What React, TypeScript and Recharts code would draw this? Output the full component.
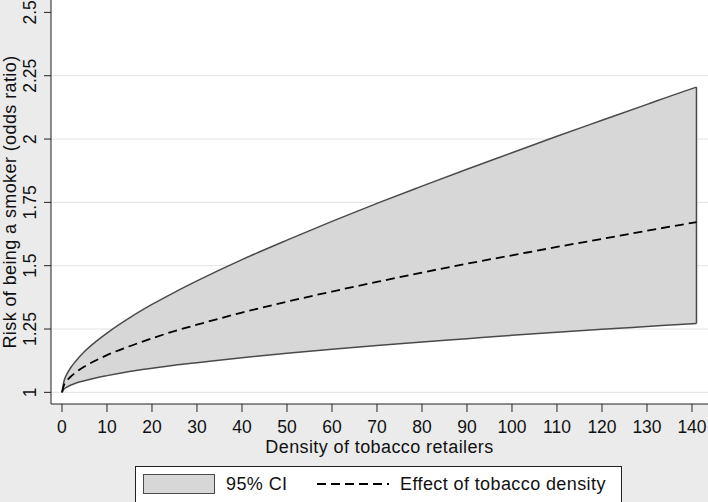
import React from 'react';
import {
  ComposedChart,
  Area,
  Line,
  XAxis,
  YAxis,
  CartesianGrid,
  ReferenceLine,
} from 'recharts';

// density of tobacco retailers (x) and odds ratios
const densityX = [0, 0.5, 1, 2, 3, 5, 7.5, 10, 15, 20, 25, 30, 40, 50, 60, 70, 80, 90, 100, 110, 120, 130, 140, 141];
const effectOR = [1, 1.031, 1.044, 1.063, 1.078, 1.102, 1.126, 1.147, 1.182, 1.213, 1.242, 1.267, 1.315, 1.358, 1.398, 1.436, 1.473, 1.508, 1.541, 1.574, 1.606, 1.638, 1.669, 1.672];
const upperCI = [1, 1.048, 1.069, 1.099, 1.122, 1.161, 1.2, 1.234, 1.294, 1.347, 1.395, 1.44, 1.524, 1.601, 1.675, 1.746, 1.814, 1.881, 1.946, 2.011, 2.074, 2.137, 2.199, 2.205];
const lowerCI = [1, 1.014, 1.02, 1.029, 1.036, 1.046, 1.057, 1.066, 1.082, 1.095, 1.107, 1.117, 1.137, 1.154, 1.17, 1.185, 1.199, 1.212, 1.225, 1.237, 1.249, 1.26, 1.271, 1.272];

const xTicks = [0, 10, 20, 30, 40, 50, 60, 70, 80, 90, 100, 110, 120, 130, 140];
const yTicks = [1, 1.25, 1.5, 1.75, 2, 2.25, 2.5];
const gridValues = [1, 1.25, 1.5, 1.75, 2, 2.25];

const FONT = '"Liberation Sans", Arial, sans-serif';
const TICK_SIZE = 17.5;
const TITLE_SIZE = 18;
const TITLE_SPACING = '0.4px';
const BAND_FILL = '#d7d7d7';
const BAND_EDGE = '#4a4a4a';

const rows = densityX.map((x, i) => ({
  x,
  mid: effectOR[i],
  band: [lowerCI[i], upperCI[i]],
}));

const last = densityX.length - 1;

const RotatedTick = (props: any) => {
  const { x, y, payload } = props;
  const bx = x - 6;
  return (
    <text
      x={bx}
      y={y}
      transform={`rotate(-90, ${bx}, ${y})`}
      textAnchor="middle"
      fill="#111"
      fontSize={TICK_SIZE}
      fontFamily={FONT}
    >
      {payload.value}
    </text>
  );
};

export default function App() {
  return (
    <div
      style={{
        position: 'absolute',
        left: 0,
        top: 0,
        width: 708,
        height: 502,
        overflow: 'hidden',
        background: '#ebebeb',
        fontFamily: FONT,
      }}
    >
      <ComposedChart
        width={708}
        height={502}
        data={rows}
        margin={{ top: 0, right: 0, bottom: 46, left: 0 }}
      >
        <CartesianGrid
          vertical={false}
          horizontalValues={gridValues}
          stroke="#e2e2e2"
          fill="#ffffff"
        />
        <XAxis
          dataKey="x"
          type="number"
          domain={[-2.44, 143.56]}
          ticks={xTicks}
          allowDataOverflow
          height={52}
          tickSize={8}
          tickMargin={9}
          stroke="#222"
          tick={{ fill: '#111', fontSize: TICK_SIZE, fontFamily: FONT }}
          label={{
            value: 'Density of tobacco retailers',
            position: 'insideBottom',
            offset: 3,
            style: { fill: '#111', fontSize: TITLE_SIZE, fontFamily: FONT, letterSpacing: TITLE_SPACING },
          }}
        />
        <YAxis
          type="number"
          domain={[0.954, 2.549]}
          ticks={yTicks}
          allowDataOverflow
          width={51}
          tickSize={7}
          tickMargin={2}
          stroke="#222"
          tick={<RotatedTick />}
          label={{
            value: 'Risk of being a smoker (odds ratio)',
            angle: -90,
            position: 'insideLeft',
            offset: 10,
            style: {
              fill: '#111',
              fontSize: TITLE_SIZE,
              fontFamily: FONT,
              letterSpacing: TITLE_SPACING,
              textAnchor: 'middle',
            },
          }}
        />
        <Area
          dataKey="band"
          type="monotone"
          stroke={BAND_EDGE}
          strokeWidth={1.5}
          fill={BAND_FILL}
          fillOpacity={1}
          isAnimationActive={false}
        />
        <ReferenceLine
          segment={[
            { x: densityX[last], y: lowerCI[last] },
            { x: densityX[last], y: upperCI[last] },
          ]}
          stroke={BAND_EDGE}
          strokeWidth={1.5}
        />
        <Line
          dataKey="mid"
          type="monotone"
          stroke="#000"
          strokeWidth={1.8}
          strokeDasharray="9 5"
          dot={false}
          isAnimationActive={false}
        />
      </ComposedChart>

      <div
        style={{
          position: 'absolute',
          left: 135,
          top: 466,
          width: 487,
          height: 50,
          background: '#fff',
          border: '1px solid #222',
          boxSizing: 'border-box',
        }}
      >
        <div
          style={{
            position: 'absolute',
            left: 7,
            top: 7,
            width: 72,
            height: 20,
            background: BAND_FILL,
            border: `1px solid ${BAND_EDGE}`,
            boxSizing: 'border-box',
          }}
        />
        <span
          style={{
            position: 'absolute',
            left: 90,
            top: 6,
            fontSize: TITLE_SIZE,
            letterSpacing: TITLE_SPACING,
            lineHeight: '22px',
            color: '#111',
            whiteSpace: 'nowrap',
          }}
        >
          95% CI
        </span>
        <svg style={{ position: 'absolute', left: 181, top: 10 }} width={72} height={12}>
          <line x1={0} y1={7} x2={72} y2={7} stroke="#000" strokeWidth={1.8} strokeDasharray="9 5" />
        </svg>
        <span
          style={{
            position: 'absolute',
            left: 264,
            top: 6,
            fontSize: TITLE_SIZE,
            letterSpacing: TITLE_SPACING,
            lineHeight: '22px',
            color: '#111',
            whiteSpace: 'nowrap',
          }}
        >
          Effect of tobacco density
        </span>
      </div>
    </div>
  );
}
